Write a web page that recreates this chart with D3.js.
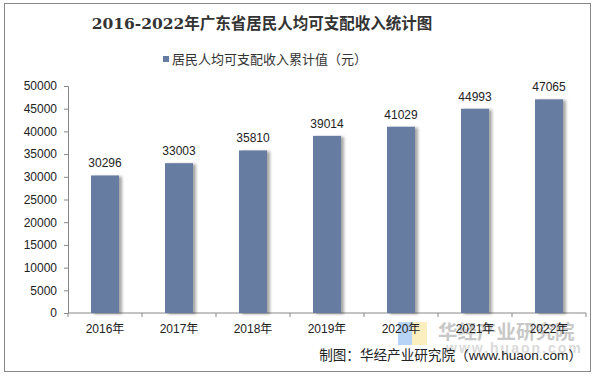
<!DOCTYPE html>
<html lang="zh">
<head>
<meta charset="UTF-8">
<script src="https://d3js.org/d3.v7.min.js"></script>
<style>
  body { margin: 0; background: #fff; }
  svg text { font-family: "Liberation Sans", Arial, "Noto Sans CJK SC", sans-serif; }
</style>
</head>
<body>
<svg id="chart" width="597" height="376"></svg>
<script>
// 数据
const years = ["2016年", "2017年", "2018年", "2019年", "2020年", "2021年", "2022年"];
const income = [30296, 33003, 35810, 39014, 41029, 44993, 47065];
const yTicks = [0, 5000, 10000, 15000, 20000, 25000, 30000, 35000, 40000, 45000, 50000];

const svg = d3.select("#chart");

// 阴影
const defs = svg.append("defs");
const f = defs.append("filter").attr("id", "shadow")
  .attr("x", "-20%").attr("y", "-5%").attr("width", "150%").attr("height", "110%");
f.append("feDropShadow").attr("dx", 3).attr("dy", 1).attr("stdDeviation", 1.5)
  .attr("flood-color", "#000").attr("flood-opacity", 0.35);

// 外框
svg.append("rect").attr("x", 4.5).attr("y", 3.5).attr("width", 586).attr("height", 368)
  .attr("fill", "#fff").attr("stroke", "#888").attr("stroke-width", 1);

// 水印
const wm = svg.append("g");
wm.append("rect").attr("x", 398).attr("y", 322).attr("width", 14).attr("height", 23).attr("fill", "#b7d3f5");
wm.append("rect").attr("x", 412).attr("y", 322).attr("width", 15).attr("height", 23).attr("fill", "#fbefbf");
wm.append("text").attr("x", 438).attr("y", 339)
  .style("font-family", "'Noto Sans CJK SC', sans-serif").style("font-weight", "bold")
  .style("font-size", "19.5px").attr("fill", "#c8c8c8").text("华经产业研究院");
wm.append("text").attr("x", 446).attr("y", 353)
  .style("font-size", "14px").style("font-weight", "bold").style("letter-spacing", "2px")
  .attr("fill", "#dadada").text("www.huaon.com");

const plotL = 68, plotR = 586, plotT = 86, plotB = 313;

const x = d3.scaleBand().domain(years).range([plotL, plotR]).paddingInner(0).paddingOuter(0);
const y = d3.scaleLinear().domain([0, 50000]).range([plotB, plotT]);

// 标题
svg.append("text").attr("x", 262).attr("y", 29).attr("text-anchor", "middle")
  .style("font-family", "'DejaVu Serif', 'Noto Sans CJK SC', serif")
  .style("font-weight", "bold").style("font-size", "15.5px").attr("fill", "#333")
  .text("2016-2022年广东省居民人均可支配收入统计图");

// 图例
svg.append("rect").attr("x", 163).attr("y", 56).attr("width", 6).attr("height", 6).attr("fill", "#667ba0");
svg.append("text").attr("x", 172).attr("y", 64).style("font-size", "13px").attr("fill", "#333")
  .style("font-family", "'Noto Sans CJK SC', sans-serif")
  .text("居民人均可支配收入累计值（元）");

// Y轴
const yAxis = svg.append("g").attr("transform", `translate(${plotL},0)`)
  .call(d3.axisLeft(y).tickValues(yTicks).tickSize(4).tickPadding(7).tickFormat(d3.format("d")));
yAxis.selectAll("path, line").attr("stroke", "#888");
yAxis.selectAll("text").style("font-size", "12px").attr("fill", "#222");

// X轴
const xAxis = svg.append("g").attr("transform", `translate(0,${plotB})`)
  .call(d3.axisBottom(x).tickSize(0).tickPadding(11));
xAxis.select("path").attr("stroke", "#888").attr("d", `M${plotL},0H${plotR}`);
xAxis.selectAll("text").style("font-size", "12px").attr("fill", "#222")
  .style("font-family", "'Liberation Sans', 'Noto Sans CJK SC', sans-serif");
xAxis.selectAll(".tick line").remove();
xAxis.selectAll(".sep").data(years.concat(["end"])).join("line")
  .attr("x1", (d, i) => plotL + i * x.bandwidth()).attr("x2", (d, i) => plotL + i * x.bandwidth())
  .attr("y1", 0).attr("y2", 4).attr("stroke", "#888");

// 柱子
const barW = 28;
svg.append("g").selectAll("rect").data(income).join("rect")
  .attr("x", (d, i) => x(years[i]) + x.bandwidth() / 2 - barW / 2)
  .attr("y", d => y(d))
  .attr("width", barW)
  .attr("height", d => plotB - y(d))
  .attr("fill", "#667ba0")
  .attr("filter", "url(#shadow)");

// 数值标签
svg.append("g").selectAll("text").data(income).join("text")
  .attr("x", (d, i) => x(years[i]) + x.bandwidth() / 2)
  .attr("y", d => y(d) - 8)
  .attr("text-anchor", "middle")
  .style("font-size", "12px").attr("fill", "#222")
  .text(d => d);

// 来源
svg.append("text").attr("x", 582).attr("y", 360).attr("text-anchor", "end")
  .style("font-size", "13.6px").attr("fill", "#222")
  .style("font-family", "'Liberation Sans', 'Noto Sans CJK SC', sans-serif")
  .text("制图：华经产业研究院（www.huaon.com）");
</script>
</body>
</html>
